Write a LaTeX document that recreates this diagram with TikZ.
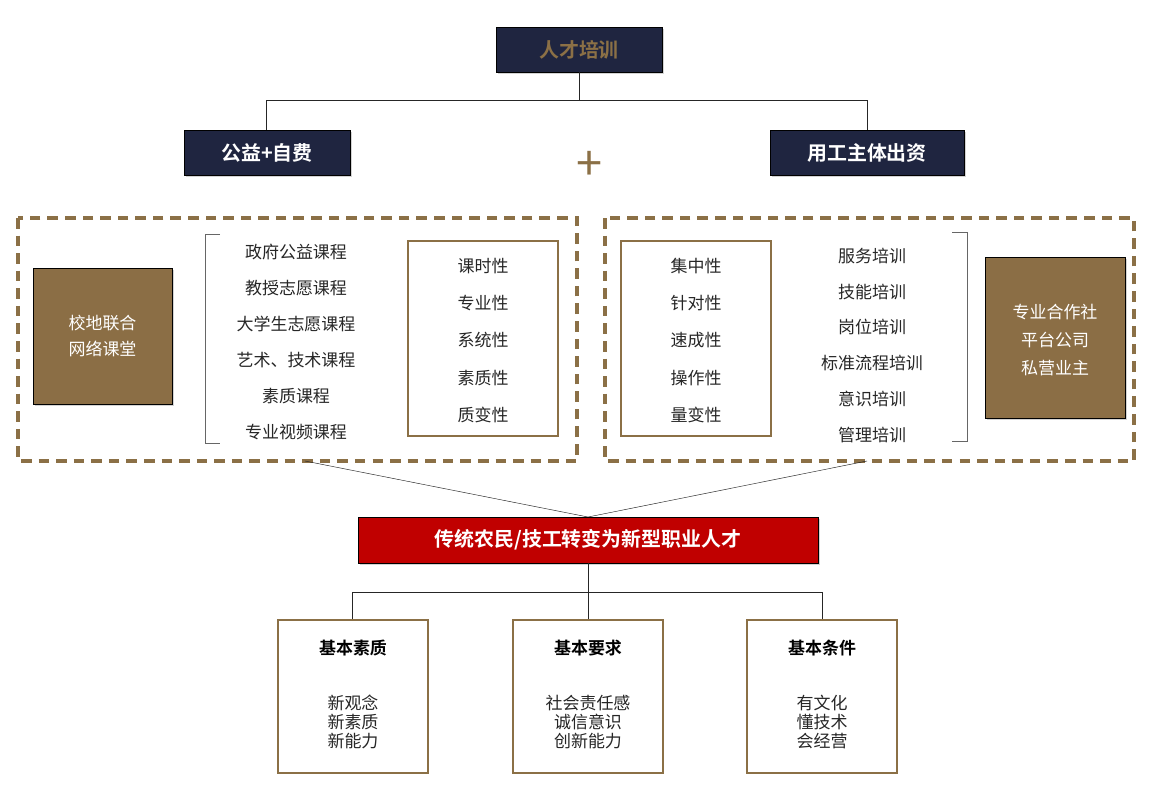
\documentclass[tikz,border=0pt]{standalone}
\usepackage{fontspec}
\setmainfont{Noto Sans CJK SC}[BoldFont=Noto Sans CJK SC Bold]
\usetikzlibrary{shadows}
\definecolor{navy}{HTML}{1F2540}
\definecolor{gold}{HTML}{8B7046}
\definecolor{goldfill}{HTML}{8B6E45}
\definecolor{redc}{HTML}{C00000}
\begin{document}
\begin{tikzpicture}[x=0.03cm,y=-0.03cm,
  darkbox/.style={fill=navy,drop shadow={opacity=0.35,shadow xshift=2pt,shadow yshift=-2pt}},
  goldbox/.style={fill=goldfill,drop shadow={opacity=0.35,shadow xshift=2pt,shadow yshift=-2pt}},
  outbox/.style={draw=gold,line width=1.2pt},
  dbox/.style={draw=gold,line width=2.8pt,dash pattern=on 9pt off 6pt},
  ln/.style={draw=black!85,line width=0.6pt},
  txt/.style={font=\fontsize{14.5}{17}\selectfont,text=black!85},
  ttl/.style={font=\bfseries\fontsize{17}{20}\selectfont}]
\useasboundingbox (0,0) rectangle (1153,804);
% top
\draw[darkbox] (496,27) rectangle (662,72);
\node[ttl,text=gold] (top) at (579,49.5) {人才培训};
\draw[ln] (579,72) -- (579,100) coordinate (c1);
\draw[ln] (266,130) -- (266,100) -- (867,100) -- (867,130);
\draw[darkbox] (184,130) rectangle (350,175);
\node[ttl,text=white] (gy) at (267,152.5) {公益+自费};
\draw[darkbox] (770,130) rectangle (964,175);
\node[ttl,text=white] (yg) at (867,152.5) {用工主体出资};
\node[text=gold,font=\fontsize{40}{40}\selectfont] (plus) at (589,166) {+};
% dashed areas
\draw[dbox] (18,218) rectangle (577,461);
\draw[dbox] (605,218) rectangle (1134,461);
% left
\draw[goldbox] (33,268) rectangle (172,404);
\node[txt,text=white,align=center] (xd) at (102.5,336) {校地联合\\[6pt]网络课堂};
\draw[ln,line width=0.5pt,draw=black!60] (220,234) -- (205,234) -- (205,443) -- (220,443);
\foreach \t/\y in {政府公益课程/252,教授志愿课程/288,大学生志愿课程/324,艺术、技术课程/360,素质课程/396,专业视频课程/432}
  \node[txt] (L\y) at (296,\y) {\t};
\draw[outbox] (408,241) rectangle (558,436);
\foreach \t/\y in {课时性/266,专业性/303,系统性/340,素质性/378,质变性/415}
  \node[txt] (M\y) at (483,\y) {\t};
% right
\draw[outbox] (621,241) rectangle (771,436);
\foreach \t/\y in {集中性/266,针对性/303,速成性/340,操作性/378,量变性/415}
  \node[txt] (N\y) at (696,\y) {\t};
\foreach \t/\y in {服务培训/256,技能培训/292,岗位培训/327,标准流程培训/363,意识培训/399,管理培训/435}
  \node[txt] (R\y) at (872,\y) {\t};
\draw[ln,line width=0.5pt,draw=black!60] (952,232) -- (967,232) -- (967,441) -- (952,441);
\draw[goldbox] (985,257) rectangle (1125,418);
\node[txt,text=white,align=center] (zy) at (1055,340) {专业合作社\\[7pt]平台公司\\[7pt]私营业主};
% middle
\coordinate (a) at (305,461);
\coordinate (b) at (867,461);
\coordinate (m) at (588,517);
\draw[ln,line width=0.4pt] (a) -- (m) -- (b);
\draw[fill=redc,drop shadow={opacity=0.35,shadow xshift=2pt,shadow yshift=-2pt}] (358,517) rectangle (818,563);
\node[ttl,text=white] (red) at (588,540) {传统农民/技工转变为新型职业人才};
\draw[ln] (588,563) -- (588,592);
\draw[ln] (352,620) -- (352,592) -- (822,592) -- (822,620);
\draw[ln] (588,592) -- (588,620);
% bottom
\foreach \x/\t/\a/\b/\c/\n in {353/基本素质/新观念/新素质/新能力/p,588/基本要求/社会责任感/诚信意识/创新能力/q,822/基本条件/有文化/懂技术/会经营/r}{
  \draw[outbox] (\x-75,620) rectangle (\x+75,773);
  \node[font=\bfseries\fontsize{14.5}{17}\selectfont] (\n t) at (\x,648) {\t};
  \node[txt,align=center,font=\fontsize{14.5}{16.5}\selectfont] (\n b) at (\x,722) {\a\\\b\\\c};
}
\end{tikzpicture}
\end{document}
